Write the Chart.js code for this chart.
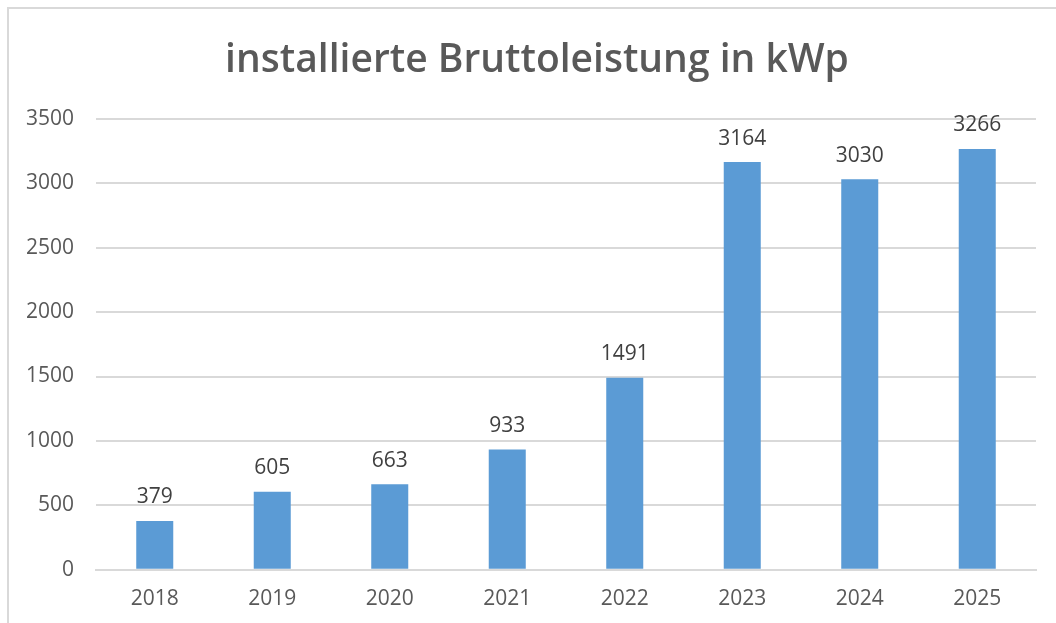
<!DOCTYPE html>
<html>
<head>
<meta charset="utf-8">
<script src="https://cdn.jsdelivr.net/npm/chart.js@4"></script>
<style>
  html, body { margin: 0; padding: 0; background: #fff; }
  #wrap { position: relative; width: 1056px; height: 623px; }
  #frame { position: absolute; left: 7px; top: 7px; width: 1060px; height: 630px;
           border-left: 2px solid #d9d9d9; border-top: 2px solid #d9d9d9; }
  canvas { position: absolute; left: 0; top: 0; }
</style>
</head>
<body>
<div id="wrap">
  <div id="frame"></div>
  <canvas id="chart" width="1056" height="623"></canvas>
</div>
<script>
// Jahre und installierte Leistung (kWp)
const years = ['2018', '2019', '2020', '2021', '2022', '2023', '2024', '2025'];
const kwp = [379, 605, 663, 933, 1491, 3164, 3030, 3266];
const chartTitle = 'installierte Bruttoleistung in kWp';

const FONT = "'Open Sans', 'Noto Sans', sans-serif";

// Werte über die Balken schreiben
const valueLabels = {
  id: 'valueLabels',
  afterDatasetsDraw(chart) {
    const ctx = chart.ctx;
    const meta = chart.getDatasetMeta(0);
    ctx.save();
    ctx.font = '21px ' + FONT;
    ctx.fillStyle = '#404040';
    ctx.textAlign = 'center';
    ctx.textBaseline = 'bottom';
    meta.data.forEach(function(bar, i) {
      ctx.fillText(String(kwp[i]), bar.x, bar.y - 13);
    });
    ctx.restore();
  }
};

const ctx = document.getElementById('chart').getContext('2d');
new Chart(ctx, {
  type: 'bar',
  data: {
    labels: years,
    datasets: [{
      data: kwp,
      backgroundColor: '#5b9bd5',
      borderWidth: 0,
      barPercentage: 0.315,
      categoryPercentage: 1.0
    }]
  },
  options: {
    responsive: false,
    animation: false,
    layout: { padding: { left: 20, right: 2, top: 37, bottom: 2 } },
    plugins: {
      legend: { display: false },
      tooltip: { enabled: false },
      title: {
        display: true,
        text: chartTitle,
        color: '#595959',
        font: { family: FONT, size: 39, weight: '600' },
        padding: { top: 0, bottom: 35 }
      }
    },
    scales: {
      x: {
        grid: { display: false },
        border: { color: '#d9d9d9', width: 2 },
        ticks: { color: '#595959', font: { family: FONT, size: 21 }, padding: 9 }
      },
      y: {
        min: 0,
        max: 3500,
        afterFit(scale) { scale.width = 76; },
        grid: { color: '#d9d9d9', lineWidth: 2, drawTicks: false },
        border: { display: false },
        ticks: {
          stepSize: 500,
          color: '#595959',
          font: { family: FONT, size: 21 },
          padding: 22,
          callback: function(v) { return String(v); }
        }
      },
      // leerer Rand rechts, damit der Titel mittig sitzt
      yRight: {
        position: 'right',
        display: true,
        min: 0,
        max: 3500,
        afterFit(scale) { scale.width = 18; },
        grid: { display: false },
        border: { display: false },
        ticks: { display: false }
      }
    }
  },
  plugins: [valueLabels]
});
</script>
</body>
</html>
